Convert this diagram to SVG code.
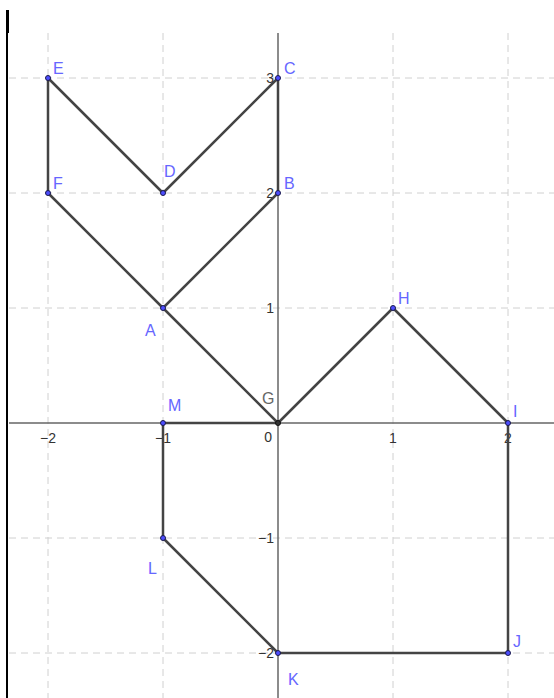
<svg xmlns="http://www.w3.org/2000/svg" width="554" height="698" viewBox="0 0 554 698">
<style>
.grid{stroke:#d0d0d0;stroke-width:1;stroke-dasharray:7,5;fill:none}
.axis{stroke:#666;stroke-width:1.5}
.seg{stroke:#444;stroke-width:2.5;fill:none;stroke-linecap:round;stroke-linejoin:round}
.tick{font-family:"Liberation Sans",Arial,sans-serif;font-size:14px;fill:#333}
.lbl{font-family:"Liberation Sans",Arial,sans-serif;font-size:16px;fill:#6666ff}
.pt{fill:#4d4dff;stroke:#1a1a4d;stroke-width:1}
</style>
<rect width="554" height="698" fill="#fff"/>
<g id="grid">
<line class="grid" x1="48" y1="33" x2="48" y2="698"/>
<line class="grid" x1="163" y1="33" x2="163" y2="698"/>
<line class="grid" x1="393" y1="33" x2="393" y2="698"/>
<line class="grid" x1="508" y1="33" x2="508" y2="698"/>
<line class="grid" x1="9" y1="78" x2="554" y2="78"/>
<line class="grid" x1="9" y1="193" x2="554" y2="193"/>
<line class="grid" x1="9" y1="308" x2="554" y2="308"/>
<line class="grid" x1="9" y1="538" x2="554" y2="538"/>
<line class="grid" x1="9" y1="653" x2="554" y2="653"/>
</g>
<g id="axes">
<line class="axis" x1="9" y1="423" x2="554" y2="423"/>
<line class="axis" x1="278" y1="33" x2="278" y2="698"/>
<line x1="7" y1="10" x2="7" y2="698" stroke="#000" stroke-width="2"/>
<line x1="7.5" y1="10" x2="7.5" y2="33" stroke="#000" stroke-width="3"/>
</g>
<g id="ticks" class="tick">
<text x="274" y="83" text-anchor="end">3</text>
<text x="274" y="198" text-anchor="end">2</text>
<text x="274" y="313" text-anchor="end">1</text>
<text x="272" y="442" text-anchor="end">0</text>
<text x="274" y="543" text-anchor="end">−1</text>
<text x="274" y="658" text-anchor="end">−2</text>
<text x="48" y="443" text-anchor="middle">−2</text>
<text x="163" y="443" text-anchor="middle">−1</text>
<text x="393" y="443" text-anchor="middle">1</text>
<text x="508" y="443" text-anchor="middle">2</text>
</g>
<g id="connectors">
<polyline class="seg" points="48,193 48,78 163,193 278,78 278,193 163,308 278,423 393,308 508,423 508,653 278,653 163,538 163,423 278,423"/>
<line class="seg" x1="48" y1="193" x2="163" y2="308"/>
</g>
<g id="E"><circle class="pt" cx="48" cy="78" r="2.5"/><text class="lbl" x="53" y="74">E</text></g>
<g id="C"><circle class="pt" cx="278" cy="78" r="2.5"/><text class="lbl" x="284" y="74">C</text></g>
<g id="D"><circle class="pt" cx="163" cy="193" r="2.5"/><text class="lbl" x="164" y="177">D</text></g>
<g id="F"><circle class="pt" cx="48" cy="193" r="2.5"/><text class="lbl" x="53" y="189">F</text></g>
<g id="B"><circle class="pt" cx="278" cy="193" r="2.5"/><text class="lbl" x="284" y="189">B</text></g>
<g id="A"><circle class="pt" cx="163" cy="308" r="2.5"/><text class="lbl" x="145" y="336">A</text></g>
<g id="H"><circle class="pt" cx="393" cy="308" r="2.5"/><text class="lbl" x="398" y="304">H</text></g>
<g id="G"><circle cx="278" cy="423" r="2.5" fill="#333" stroke="#111"/><text class="lbl" x="262" y="404" style="fill:#666">G</text></g>
<g id="M"><circle class="pt" cx="163" cy="423" r="2.5"/><text class="lbl" x="168" y="411">M</text></g>
<g id="I"><circle class="pt" cx="508" cy="423" r="2.5"/><text class="lbl" x="513" y="417">I</text></g>
<g id="L"><circle class="pt" cx="163" cy="538" r="2.5"/><text class="lbl" x="148" y="574">L</text></g>
<g id="K"><circle class="pt" cx="278" cy="653" r="2.5"/><text class="lbl" x="288" y="685">K</text></g>
<g id="J"><circle class="pt" cx="508" cy="653" r="2.5"/><text class="lbl" x="513" y="647">J</text></g>
</svg>
